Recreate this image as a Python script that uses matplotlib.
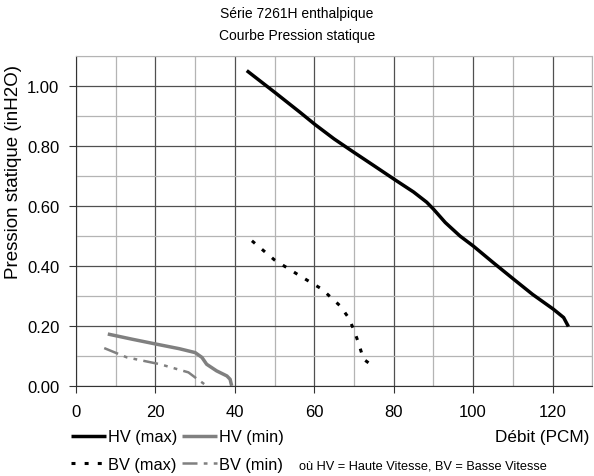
import matplotlib.pyplot as plt
from matplotlib.ticker import MultipleLocator

plt.rcParams['font.family'] = ['Liberation Sans', 'DejaVu Sans']

# données
hv_max_x = [43.0, 50.0, 56.4, 60.2, 65.0, 69.9, 75.0, 80.4, 85.0, 88.3, 90.0, 93.0, 96.7, 100.1, 105.0, 110.2, 115.0, 120.2, 122.8, 124.0]
hv_max_y = [1.052, 0.980, 0.913, 0.872, 0.824, 0.780, 0.735, 0.687, 0.647, 0.613, 0.590, 0.545, 0.500, 0.466, 0.412, 0.356, 0.305, 0.256, 0.228, 0.198]

bv_max_x = [44.3, 50.0, 56.4, 61.9, 66.5, 68.6, 69.9, 71.1, 72.4, 74.9]
bv_max_y = [0.484, 0.420, 0.367, 0.323, 0.267, 0.228, 0.189, 0.145, 0.089, 0.065]

hv_min_x = [8.0, 14.0, 20.3, 26.0, 30.0, 31.7, 32.9, 35.4, 38.0, 38.8, 39.2]
hv_min_y = [0.173, 0.156, 0.139, 0.124, 0.111, 0.095, 0.072, 0.050, 0.033, 0.022, 0.0]

bv_min_x = [7.1, 12.8, 21.2, 28.3, 30.0, 32.9]
bv_min_y = [0.126, 0.095, 0.072, 0.045, 0.028, 0.0]

fig = plt.figure(figsize=(5.94, 4.77), dpi=100)
ax = fig.add_axes([0.128, 0.189, 0.869, 0.691])

l1, = ax.plot(hv_max_x, hv_max_y, color='black', lw=2.5, solid_capstyle='butt', label='HV (max)')
l2, = ax.plot(hv_min_x, hv_min_y, color='#808080', lw=2.5, solid_capstyle='butt', label='HV (min)')
l3, = ax.plot(bv_max_x, bv_max_y, color='black', lw=2.2, ls=(0, (1.3, 3.0)), label='BV (max)')
l4, = ax.plot(bv_min_x, bv_min_y, color='#808080', lw=1.8, ls=(0, (6, 2.5, 1.5, 2.5, 1.5, 2.5)), label='BV (min)')

ax.set_xlim(0, 130)
ax.set_ylim(0, 1.1)
ax.xaxis.set_major_locator(MultipleLocator(20))
ax.xaxis.set_minor_locator(MultipleLocator(10))
ax.yaxis.set_major_locator(MultipleLocator(0.2))
ax.yaxis.set_minor_locator(MultipleLocator(0.1))
ax.yaxis.set_major_formatter(plt.FormatStrFormatter('%.2f'))
ax.grid(which='major', color='#505050', lw=0.9)
ax.grid(which='minor', color='#b4b4b4', lw=0.9)
ax.set_axisbelow(True)
ax.tick_params(which='major', direction='out', length=5, labelsize=12, color='#333333')
ax.tick_params(axis='y', pad=7)
ax.tick_params(axis='x', pad=8)
ax.tick_params(which='minor', length=0)
for s in ['top', 'right']:
    ax.spines[s].set_color('#b4b4b4')
for s in ['left', 'bottom']:
    ax.spines[s].set_color('#333333')

fig.text(0.5, 0.985, 'Série 7261H enthalpique\nCourbe Pression statique', ha='center', va='top',
         fontsize=10, linespacing=1.75)
fig.text(0.022, 0.640, 'Pression statique (inH2O)', rotation=90, ha='center', va='center', fontsize=13.5)
fig.text(0.993, 0.082, 'Débit (PCM)', ha='right', va='center', fontsize=12.3)

fig.legend([l1, l3, l2, l4], ['HV (max)', 'BV (max)', 'HV (min)', 'BV (min)'], ncol=2,
           loc='upper left', bbox_to_anchor=(0.12, 0.098), frameon=False, fontsize=11.8,
           handlelength=2.1, handletextpad=0.15, columnspacing=0.3, labelspacing=0.75,
           borderpad=0, borderaxespad=0)
fig.text(0.503, 0.023, 'où HV = Haute Vitesse, BV = Basse Vitesse', fontsize=9.2, va='center')

fig.savefig('out.png', dpi=100)
